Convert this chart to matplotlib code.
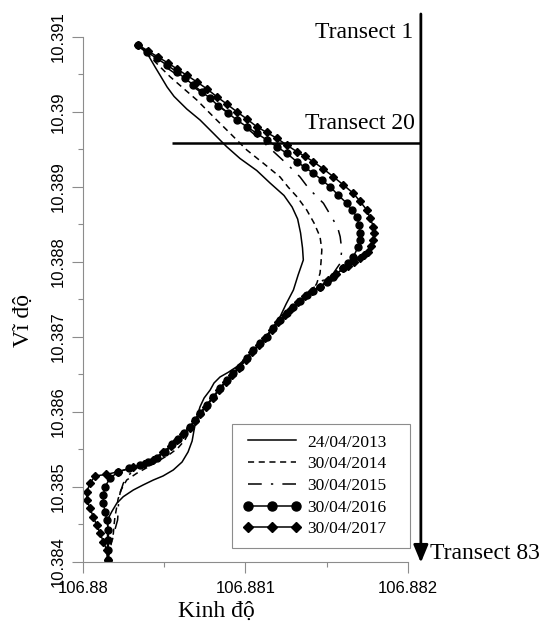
import matplotlib
matplotlib.use("Agg")
import matplotlib.pyplot as plt

plt.rcParams['font.family'] = ['Liberation Serif', 'DejaVu Serif']

# duong bo theo tung dot do (kinh do, vi do)
lon_2013 = [106.880341, 106.880401, 106.880444, 106.880481, 106.880518, 106.880561,
            106.880639, 106.880721, 106.880801, 106.880885, 106.880967, 106.881070,
            106.881152, 106.881238, 106.881288, 106.881322, 106.881340, 106.881352,
            106.881357, 106.881325, 106.881296, 106.881251, 106.881214, 106.881171,
            106.881111, 106.881060, 106.881009, 106.880949, 106.880893, 106.880844,
            106.880807, 106.880783, 106.880746, 106.880721, 106.880699, 106.880684,
            106.880672, 106.880647, 106.880610, 106.880556, 106.880493, 106.880433,
            106.880370, 106.880310, 106.880248, 106.880208, 106.880177, 106.880156,
            106.880151, 106.880151, 106.880151, 106.880150]
lat_2013 = [10.390889, 10.390756, 10.390596, 10.390463, 10.390329, 10.390203,
            10.390036, 10.389889, 10.389716, 10.389533, 10.389376, 10.389216,
            10.389049, 10.388883, 10.388729, 10.388569, 10.388383, 10.388183,
            10.388023, 10.387823, 10.387623, 10.387436, 10.387267, 10.387129,
            10.386956, 10.386836, 10.386729, 10.386603, 10.386523, 10.386463,
            10.386383, 10.386289, 10.386183, 10.386067, 10.385916, 10.385756,
            10.385609, 10.385463, 10.385329, 10.385223, 10.385143, 10.385089,
            10.385023, 10.384956, 10.384867, 10.384779, 10.384667, 10.384579,
            10.384423, 10.384289, 10.384156, 10.384023]

lon_2014 = [106.880341, 106.880382, 106.880413, 106.880474, 106.880536, 106.880618,
            106.880701, 106.880803, 106.880906, 106.881009, 106.881111, 106.881214,
            106.881263, 106.881319, 106.881378, 106.881423, 106.881460, 106.881471,
            106.881466, 106.881460, 106.881440, 106.881417, 106.881378, 106.881296,
            106.881214, 106.881132, 106.881049, 106.880967, 106.880885, 106.880803,
            106.880721, 106.880690, 106.880659, 106.880628, 106.880585, 106.880536,
            106.880474, 106.880401, 106.880331, 106.880269, 106.880234, 106.880216,
            106.880208, 106.880197, 106.880191, 106.880187, 106.880176, 106.880166,
            106.880151]
lat_2014 = [10.390889, 10.390796, 10.390733, 10.390600, 10.390467, 10.390312,
            10.390156, 10.389933, 10.389712, 10.389489, 10.389312, 10.389129,
            10.388996, 10.388863, 10.388689, 10.388516, 10.388333, 10.388156,
            10.387996, 10.387846, 10.387712, 10.387623, 10.387543, 10.387400,
            10.387223, 10.387000, 10.386823, 10.386600, 10.386423, 10.386200,
            10.385979, 10.385863, 10.385756, 10.385623, 10.385516, 10.385436,
            10.385356, 10.385263, 10.385179, 10.385089, 10.384956, 10.384836,
            10.384733, 10.384600, 10.384489, 10.384379, 10.384263, 10.384156,
            10.384023]

lon_2015 = [106.880341, 106.880388, 106.880450, 106.880518, 106.880598, 106.880690,
            106.880783, 106.880863, 106.880943, 106.881023, 106.881103, 106.881183,
            106.881263, 106.881337, 106.881388, 106.881436, 106.881481, 106.881542,
            106.881571, 106.881584, 106.881594, 106.881584, 106.881542, 106.881481,
            106.881436, 106.881399, 106.881337, 106.881255, 106.881173, 106.881091,
            106.881009, 106.880926, 106.880844, 106.880762, 106.880702, 106.880665,
            106.880622, 106.880573, 106.880511, 106.880425, 106.880345, 106.880279,
            106.880248, 106.880228, 106.880219, 106.880217, 106.880213, 106.880191,
            106.880173, 106.880151]
lat_2015 = [10.390889, 10.390796, 10.390689, 10.390583, 10.390463, 10.390316,
            10.390169, 10.390036, 10.389903, 10.389756, 10.389609, 10.389449,
            10.389289, 10.389129, 10.388983, 10.388876, 10.388779, 10.388556,
            10.388436, 10.388333, 10.388156, 10.387979, 10.387846, 10.387756,
            10.387683, 10.387616, 10.387476, 10.387312, 10.387112, 10.386912,
            10.386712, 10.386512, 10.386312, 10.386089, 10.385929, 10.385809,
            10.385689, 10.385583, 10.385476, 10.385356, 10.385249, 10.385156,
            10.385045, 10.384912, 10.384796, 10.384689, 10.384556, 10.384383,
            10.384222, 10.384023]

lon_2016 = [106.880341, 106.880392, 106.880454, 106.880516, 106.880577, 106.880628,
            106.880680, 106.880731, 106.880783, 106.880834, 106.880895, 106.880947,
            106.881009, 106.881070, 106.881132, 106.881194, 106.881255, 106.881317,
            106.881368, 106.881419, 106.881471, 106.881522, 106.881571, 106.881625,
            106.881657, 106.881686, 106.881701, 106.881707, 106.881704, 106.881696,
            106.881665, 106.881633, 106.881604, 106.881542, 106.881502, 106.881460,
            106.881419, 106.881378, 106.881337, 106.881296, 106.881255, 106.881214,
            106.881173, 106.881132, 106.881091, 106.881049, 106.881009, 106.880967,
            106.880926, 106.880885, 106.880844, 106.880803, 106.880762, 106.880721,
            106.880690, 106.880659, 106.880622, 106.880585, 106.880548, 106.880505,
            106.880454, 106.880401, 106.880351, 106.880283, 106.880218, 106.880166,
            106.880136, 106.880125, 106.880125, 106.880136, 106.880146, 106.880156,
            106.880156, 106.880156, 106.880151]
lat_2016 = [10.390889, 10.390800, 10.390712, 10.390623, 10.390533, 10.390445,
            10.390356, 10.390267, 10.390179, 10.390076, 10.389979, 10.389889,
            10.389800, 10.389712, 10.389623, 10.389533, 10.389445, 10.389333,
            10.389256, 10.389179, 10.389089, 10.389000, 10.388889, 10.388779,
            10.388689, 10.388600, 10.388489, 10.388379, 10.388289, 10.388200,
            10.388067, 10.387989, 10.387912, 10.387800, 10.387733, 10.387667,
            10.387609, 10.387556, 10.387476, 10.387400, 10.387312, 10.387223,
            10.387112, 10.387000, 10.386912, 10.386823, 10.386712, 10.386600,
            10.386512, 10.386423, 10.386312, 10.386200, 10.386089, 10.385979,
            10.385889, 10.385800, 10.385716, 10.385636, 10.385563, 10.385467,
            10.385379, 10.385329, 10.385289, 10.385243, 10.385200, 10.385112,
            10.385000, 10.384889, 10.384779, 10.384667, 10.384556, 10.384423,
            10.384289, 10.384156, 10.384023]

lon_2017 = [106.880341, 106.880401, 106.880462, 106.880524, 106.880579, 106.880641,
            106.880702, 106.880764, 106.880824, 106.880885, 106.880947, 106.881009,
            106.881070, 106.881132, 106.881194, 106.881255, 106.881317, 106.881368,
            106.881419, 106.881481, 106.881542, 106.881604, 106.881665, 106.881707,
            106.881748, 106.881768, 106.881789, 106.881793, 106.881789, 106.881775,
            106.881758, 106.881731, 106.881707, 106.881670, 106.881633, 106.881604,
            106.881559, 106.881510, 106.881460, 106.881411, 106.881368, 106.881325,
            106.881282, 106.881242, 106.881201, 106.881161, 106.881121, 106.881081,
            106.881041, 106.881001, 106.880961, 106.880918, 106.880878, 106.880838,
            106.880798, 106.880758, 106.880718, 106.880687, 106.880656, 106.880616,
            106.880579, 106.880540, 106.880493, 106.880431, 106.880376, 106.880308,
            106.880218, 106.880142, 106.880074, 106.880043, 106.880023, 106.880023,
            106.880043, 106.880063, 106.880084, 106.880105, 106.880125, 106.880146,
            106.880151]
lat_2017 = [10.390889, 10.390809, 10.390729, 10.390649, 10.390569, 10.390483,
            10.390396, 10.390303, 10.390200, 10.390103, 10.390000, 10.389903,
            10.389800, 10.389723, 10.389645, 10.389556, 10.389467, 10.389403,
            10.389333, 10.389236, 10.389133, 10.389023, 10.388912, 10.388803,
            10.388689, 10.388583, 10.388467, 10.388383, 10.388289, 10.388209,
            10.388133, 10.388089, 10.388049, 10.387996, 10.387949, 10.387912,
            10.387836, 10.387756, 10.387669, 10.387603, 10.387543, 10.387456,
            10.387369, 10.387283, 10.387196, 10.387089, 10.386983, 10.386889,
            10.386796, 10.386689, 10.386583, 10.386489, 10.386396, 10.386289,
            10.386176, 10.386069, 10.385963, 10.385876, 10.385789, 10.385703,
            10.385623, 10.385543, 10.385463, 10.385356, 10.385303, 10.385256,
            10.385200, 10.385163, 10.385143, 10.385045, 10.384933, 10.384823,
            10.384712, 10.384600, 10.384489, 10.384379, 10.384267, 10.384156,
            10.384023]

labels = ['24/04/2013', '30/04/2014', '30/04/2015', '30/04/2016', '30/04/2017']

xticks = [106.880, 106.881, 106.882]
xticklabels = ['106.88', '106.881', '106.882']
yticks = [10.384, 10.385, 10.386, 10.387, 10.388, 10.389, 10.390, 10.391]
yticklabels = ['10.384', '10.385', '10.386', '10.387', '10.388', '10.389', '10.39', '10.391']

# vi tri cac mat cat
transect_lon = 106.882081
transect_top = 10.391303
transect_end = 10.383987
transect20_lat = 10.389583
transect20_start = 106.880548

fig = plt.figure(figsize=(5.48, 6.23), dpi=100)
ax = fig.add_axes([0.1515, 0.0984, 0.5925, 0.8427])

lw = 1.1
ax.plot(lon_2013, lat_2013, color='k', lw=lw, label=labels[0])
ax.plot(lon_2014, lat_2014, color='k', lw=lw, dashes=(4, 3), label=labels[1])
ax.plot(lon_2015, lat_2015, color='k', lw=lw, dashes=(9, 6, 1.5, 6), label=labels[2])
ax.plot(lon_2016, lat_2016, color='k', lw=lw, marker='o', ms=5, label=labels[3])
ax.plot(lon_2017, lat_2017, color='k', lw=lw, marker='D', ms=3.8, label=labels[4])

ax.set_xlim(xticks[0], xticks[-1])
ax.set_ylim(yticks[0], yticks[-1])
ax.set_xticks(xticks)
ax.set_xticklabels(xticklabels)
ax.set_yticks(yticks)
ax.set_yticklabels(yticklabels, rotation=90, va='center')
ax.set_xticks([106.8805, 106.8815], minor=True)
ax.set_yticks([y + 0.0005 for y in yticks[:-1]], minor=True)

grey = '#8c8c8c'
for s in ['top', 'right']:
    ax.spines[s].set_visible(False)
for s in ['left', 'bottom']:
    ax.spines[s].set_color(grey)
    ax.spines[s].set_linewidth(0.8)
ax.tick_params(which='major', length=8.2, width=0.8, color=grey, labelsize=12)
ax.tick_params(which='minor', length=3.6, width=0.8, color=grey)
ax.tick_params(axis='x', pad=5.5)
ax.tick_params(axis='y', pad=4)
for t in ax.get_xticklabels() + ax.get_yticklabels():
    t.set_fontfamily('Liberation Sans')

ax.set_xlabel('Kinh độ', fontsize=17)
ax.set_ylabel('Vĩ độ', fontsize=17)
ax.xaxis.set_label_coords(0.41, -0.075)
ax.yaxis.set_label_coords(-0.151, 0.46)

# mat cat
ax.annotate('', xy=(transect_lon, transect_end), xytext=(transect_lon, transect_top),
            arrowprops=dict(arrowstyle='-|>,head_length=0.53,head_width=0.22',
                            mutation_scale=20, lw=2, color='k',
                            shrinkA=0, shrinkB=0),
            annotation_clip=False)
ax.plot([transect20_start, transect_lon], [transect20_lat, transect20_lat],
        color='k', lw=1.8, clip_on=False, solid_capstyle='butt')
ax.text(1.0163, 0.9975, 'Transect 1', transform=ax.transAxes, fontsize=17,
        ha='right', va='baseline')
ax.text(1.0225, 0.8242, 'Transect 20', transform=ax.transAxes, fontsize=17,
        ha='right', va='baseline')
ax.text(1.0687, 0.0051, 'Transect 83', transform=ax.transAxes, fontsize=17,
        ha='left', va='baseline')

leg = ax.legend(loc='upper left', bbox_to_anchor=(0.4598, 0.0318, 0.5473, 0.2305),
                mode='expand', borderaxespad=0, fontsize=12.5, numpoints=3,
                handlelength=3.37, handletextpad=0.35, labelspacing=0.32,
                borderpad=0.6, markerscale=1.3, fancybox=False, framealpha=1)
leg.get_frame().set_edgecolor(grey)
leg.get_frame().set_linewidth(0.8)

fig.savefig('out.png', dpi=100)
